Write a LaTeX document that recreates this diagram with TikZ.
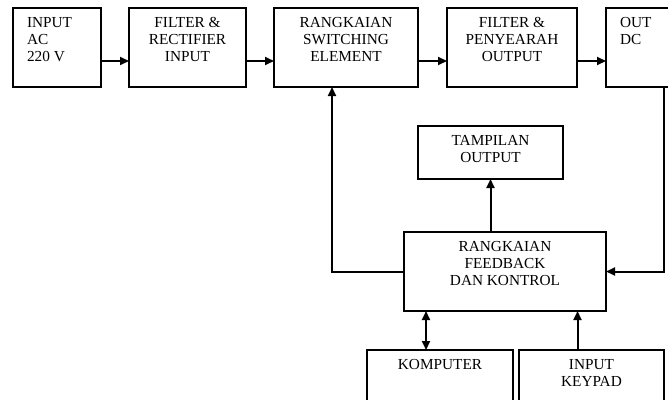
\documentclass[tikz,border=0pt]{standalone}
\usepackage{fontspec}
\setmainfont{Liberation Serif}
\usetikzlibrary{arrows.meta,calc}
\newcommand{\cbox}[3]{\parbox[c][#2][t]{#1}{\vspace*{9.8pt}\centering #3\par}}
\newcommand{\lbox}[3]{\parbox[c][#2][t]{#1}{\vspace*{9.8pt}\raggedright\leftskip=14pt #3\par}}
\begin{document}
\begin{tikzpicture}[x=1pt,y=-1pt,
  box/.style={draw, line width=2pt, inner sep=0pt, outer sep=0pt, font=\fontsize{15.3}{16.7}\selectfont},
  arr/.style={line width=2pt, -{Triangle[length=9pt,width=8pt]}},
  darr/.style={line width=2pt, {Triangle[length=9pt,width=8pt]}-{Triangle[length=9pt,width=8pt]}}]
\clip (0,0) rectangle (668,399);
\node[box] (b1) at (57,47.5) {\lbox{88pt}{79pt}{INPUT\\AC\\220 V}};
\node[box] (b2) at (187.5,47.5) {\cbox{117pt}{79pt}{FILTER \&\\RECTIFIER\\INPUT}};
\node[box] (b3) at (346,47.5) {\cbox{144pt}{79pt}{RANGKAIAN\\SWITCHING\\ELEMENT}};
\node[box] (b4) at (512,47.5) {\cbox{130pt}{79pt}{FILTER \&\\PENYEARAH\\OUTPUT}};
\node[box] (b5) at (661,47.5) {\lbox{110pt}{79pt}{OUT\\DC}};
\node[box] (tamp) at (490.5,152.5) {\cbox{145pt}{53pt}{TAMPILAN\\OUTPUT}};
\node[box] (fb) at (505,271.5) {\cbox{202pt}{79pt}{RANGKAIAN\\FEEDBACK\\DAN KONTROL}};
\node[box] (komp) at (440,390) {\cbox{146pt}{80pt}{KOMPUTER}};
\node[box] (key) at (591.5,390) {\cbox{145pt}{80pt}{INPUT\\KEYPAD}};
\foreach \a/\b in {b1/b2,b2/b3,b3/b4,b4/b5}
  \draw[arr] ($(\a.east)+(0,13.5)$) -- ($(\b.west)+(0,13.5)$);
\coordinate (sw) at ($(b3.south)+(-14,0)$);
\coordinate (tap) at ($(b5.south west)+(58,0)$);
\coordinate (kt) at ($(komp.north)+(-14,0)$);
\coordinate (yt) at ($(key.north)+(-14,0)$);
\draw[arr] (fb.west) -| (sw);
\draw[arr] (tap) |- (fb.east);
\draw[arr] (fb.north -| tamp.south) -- (tamp.south);
\draw[darr] (kt) -- (kt |- fb.south);
\draw[arr] (yt) -- (yt |- fb.south);
\end{tikzpicture}
\end{document}
